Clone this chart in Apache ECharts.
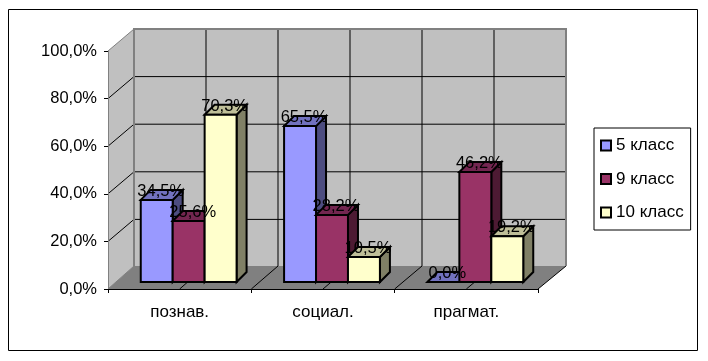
<!DOCTYPE html>
<html><head><meta charset="utf-8">
<style>html,body{margin:0;padding:0;background:#fff}#c{width:708px;height:361px}</style>
<script src="https://cdn.jsdelivr.net/npm/echarts@6/dist/echarts.min.js"></script>
</head><body><div id="c"></div>
<script>
var categories = ['познав.', 'социал.', 'прагмат.'];
var seriesNames = ['5 класс', '9 класс', '10 класс'];
var class5 = [34.5, 65.5, 0.0];
var class9 = [25.6, 28.2, 46.2];
var class10 = [70.3, 10.5, 19.2];
var frontColors = ['#9999ff', '#993366', '#ffffcc'];
var topColors = ['#7272bf', '#732650', '#bfbf99'];
var sideColors = ['#4d4d80', '#4d1a33', '#808066'];
var valueTicks = [0, 20, 40, 60, 80, 100];
var allValues = [class5, class9, class10];

var DX = 26, DXR = 28, DY = 23;  // floor depth of the 3D box
var BOX = 8;                     // bars' offset from the front plane
var BD = 10;                     // bar depth
var GAP = 47.5;                  // gap width between groups (px)

function poly(pts, fill, stroke, lw) {
  return {type:'polygon', shape:{points:pts}, style:{fill:fill, stroke:stroke||null, lineWidth:lw||0, lineJoin:'miter'}};
}
function seg(x1,y1,x2,y2,c,w) {
  return {type:'line', shape:{x1:x1,y1:y1,x2:x2,y2:y2}, style:{stroke:c,lineWidth:w,fill:null}};
}
function renderWalls(params, api) {
  var cs = params.coordSys, L = cs.x, R = cs.x + cs.width;
  var y0 = api.coord([0, 0])[1], y100 = api.coord([0, 100])[1];
  var bL = L + DX, bR = R + DXR;
  var ch = [];
  ch.push(poly([[bL,y100-DY+1],[bR,y100-DY+1],[bR,y0-DY],[bL,y0-DY]],'#c0c0c0'));
  ch.push(poly([[L,y100],[bL,y100-DY+1],[bL,y0-DY],[L,y0]],'#c0c0c0'));
  ch.push(poly([[L,y0],[bL,y0-DY],[bR,y0-DY],[R,y0]],'#808080'));
  valueTicks.forEach(function(v){
    if (v === 0 || v === 100) return;
    var y = api.coord([0, v])[1];
    ch.push(seg(L,y,bL,y-DY+1,'#000',1));
    ch.push(seg(bL,y-DY+1,bR,y-DY+1,'#000',1));
  });
  var n = categories.length * 2;
  for (var i = 1; i < n; i++) {
    var x = L + cs.width * i / n;
    var xb = bL + (bR - bL) * i / n;
    ch.push(seg(xb,y100-DY+1,xb,y0-DY,'#000',1));
    ch.push(seg(x,y0,xb,y0-DY,'#000',1));
  }
  ch.push(seg(R,y0,bR,y0-DY,'#000',1));
  ch.push(seg(bL,y0-DY,bL,y100-DY+1,'#808080',2));
  ch.push(seg(bL-1,y100-DY+1,bR+1,y100-DY+1,'#808080',2));
  ch.push(seg(bR,y100-DY+1,bR,y0-DY,'#808080',2));
  ch.push(seg(L,y100,bL,y100-DY+1,'#808080',1));
  ch.push(seg(L,y0,bL,y0-DY,'#808080',1));
  return {type:'group', children:ch};
}
function barBox(api, cat, si) {
  var val = api.value(1);
  var c = api.coord([cat, val]), b = api.coord([cat, 0]);
  var catW = api.size([1, 0])[0];
  var bw = (catW - GAP) / seriesNames.length;
  var x0 = c[0] + BOX + 1 - bw * seriesNames.length / 2 + si * bw;
  return {x0:x0, x1:x0+bw, top:c[1]-BOX+1, bot:b[1]-BOX+1};
}
function makeBar(si) {
  return function(params, api) {
    var r = barBox(api, api.value(0), si);
    return {type:'group', children:[
      poly([[r.x1,r.top],[r.x1+BD,r.top-BD],[r.x1+BD,r.bot-BD],[r.x1,r.bot]], sideColors[si], '#000', 2),
      poly([[r.x0,r.top],[r.x0+BD,r.top-BD],[r.x1+BD,r.top-BD],[r.x1,r.top]], topColors[si], '#000', 2),
      poly([[r.x0,r.top],[r.x1,r.top],[r.x1,r.bot],[r.x0,r.bot]], frontColors[si], '#000', 2)
    ]};
  };
}
function fmt(v) { return v.toFixed(1).replace('.', ',') + '%'; }
function renderLabel(params, api) {
  var si = api.value(2);
  var r = barBox(api, api.value(0), si);
  return {type:'text', x:(r.x0+r.x1)/2+BD/2-1, y:r.top-BD+1.5, style:{
    text:fmt(api.value(1)), fill:'#000', font:'16.5px "Liberation Sans"', align:'center', verticalAlign:'middle'}};
}

var labelData = [];
allValues.forEach(function(vals, si){ vals.forEach(function(v, ci){ labelData.push([ci, v, si]); }); });

var series = [{
  type:'custom', name:'walls', z:0, silent:true, data:[[0,0]], renderItem:renderWalls, animation:false, clip:false
}];
allValues.forEach(function(vals, si){
  series.push({
    type:'custom', name:seriesNames[si], z:2, animation:false, clip:false,
    itemStyle:{color:frontColors[si]},
    encode:{x:0,y:1},
    data:vals.map(function(v,i){return [i,v];}),
    renderItem:makeBar(si)
  });
});
series.push({type:'custom', name:'labels', z:4, silent:true, animation:false, clip:false,
  encode:{x:0,y:1}, data:labelData, renderItem:renderLabel});

var chart = echarts.init(document.getElementById('c'), null, {renderer:'canvas'});
chart.setOption({
  animation:false,
  backgroundColor:'#fff',
  textStyle:{fontFamily:'"Liberation Sans"'},
  graphic:[{type:'rect', z:-10, shape:{x:8.5,y:9.5,width:689,height:341}, style:{fill:'#fff',stroke:'#000',lineWidth:1}}],
  grid:{left:108, right:170, top:51, height:238, containLabel:false},
  xAxis:{type:'category', data:categories, boundaryGap:true, z:1,
    axisLine:{show:true, lineStyle:{color:'#000',width:1}},
    axisTick:{show:true, alignWithLabel:false, length:4, lineStyle:{color:'#000',width:1}},
    axisLabel:{color:'#000', fontSize:17, margin:15, fontFamily:'"Liberation Sans"'},
    splitLine:{show:false}},
  yAxis:{type:'value', min:0, max:100, interval:20, z:1,
    axisLine:{show:true, lineStyle:{color:'#808080',width:1}},
    axisTick:{show:true, length:4, lineStyle:{color:'#000',width:1}},
    axisLabel:{color:'#000', fontSize:16.5, margin:11, fontFamily:'"Liberation Sans"', formatter:function(v){return fmt(v);}},
    splitLine:{show:false}},
  legend:{show:true, orient:'vertical', left:594, top:128, data:seriesNames,
    padding:[9,7,9,6], itemGap:16.5, itemWidth:10, itemHeight:10, icon:'rect',
    backgroundColor:'#fff', borderColor:'#000', borderWidth:1,
    itemStyle:{borderColor:'#000',borderWidth:2},
    textStyle:{color:'#000', fontSize:17, fontFamily:'"Liberation Sans"'}},
  series:series
});
</script></body></html>
